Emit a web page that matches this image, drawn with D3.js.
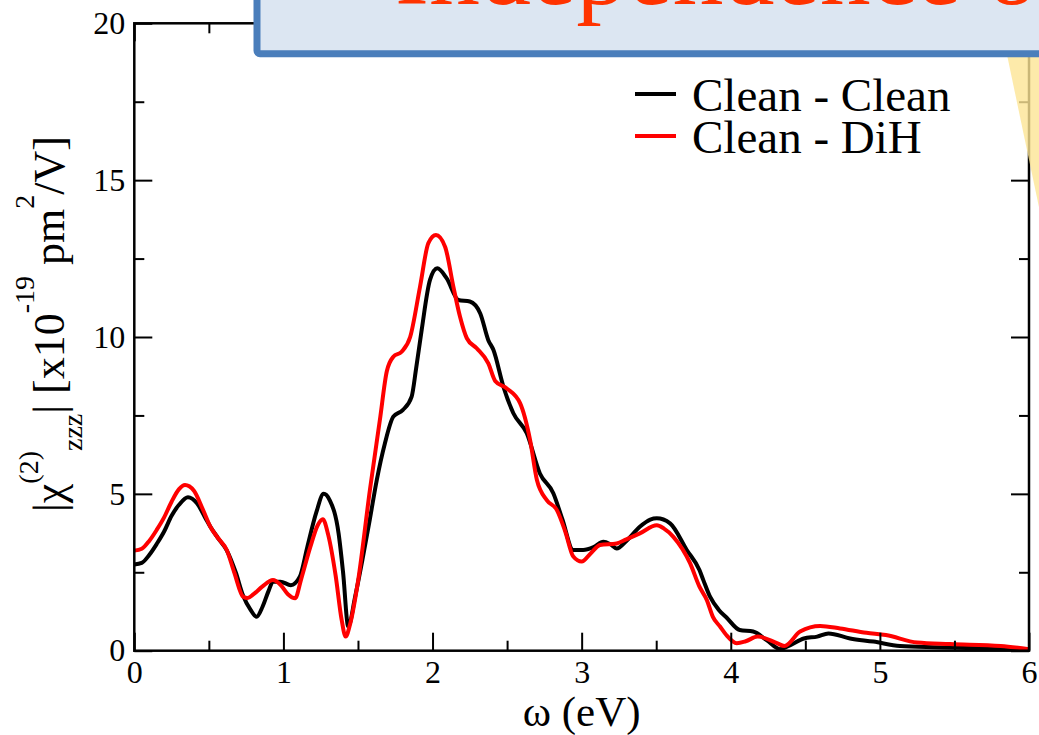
<!DOCTYPE html>
<html>
<head>
<meta charset="utf-8">
<script src="https://cdn.jsdelivr.net/npm/d3@7"></script>
<style>
	body { margin: 0; background: #fff; }
	svg { display: block; }
	text { font-family: "Times New Roman", "Liberation Serif", serif; }
</style>
</head>
<body>
<script>

// energy (eV) for the two spectra
var cleanCleanX = [0.00, 0.05, 0.10, 0.15, 0.20, 0.25, 0.30, 0.36, 0.42, 0.48, 0.51, 0.56, 0.62, 0.68, 0.73, 0.78, 0.82, 0.86, 0.90, 0.93,
	0.98, 1.05, 1.11, 1.16, 1.22, 1.27, 1.31, 1.37, 1.40, 1.435, 1.48, 1.53, 1.58, 1.626, 1.68, 1.737, 1.80, 1.86, 1.89, 1.927,
	1.983, 2.032, 2.095, 2.173, 2.25, 2.32, 2.374, 2.408, 2.475, 2.542, 2.632, 2.72, 2.81, 2.87, 2.944, 3.01, 3.08, 3.146, 3.19, 3.235,
	3.30, 3.39, 3.46, 3.504, 3.593, 3.705, 3.79, 3.816, 3.861, 3.92, 3.973, 4.06, 4.15, 4.24, 4.33, 4.40, 4.49, 4.58, 4.655, 4.80,
	4.957, 5.135, 5.36, 5.60, 5.80, 6.00];
var cleanCleanY = [2.75, 2.80, 3.05, 3.40, 3.80, 4.30, 4.65, 4.89, 4.70, 4.20, 3.95, 3.60, 3.20, 2.50, 1.75, 1.30, 1.08, 1.40, 1.90, 2.20,
	2.20, 2.09, 2.36, 3.30, 4.40, 5.00, 4.80, 3.74, 2.50, 0.77, 1.70, 2.90, 4.20, 5.44, 6.60, 7.46, 7.67, 8.10, 9.00, 10.22,
	11.82, 12.19, 11.87, 11.18, 11.13, 10.75, 9.90, 9.59, 8.42, 7.57, 6.93, 5.65, 5.02, 4.20, 3.21, 3.21, 3.30, 3.47, 3.40, 3.26,
	3.50, 3.95, 4.18, 4.22, 4.06, 3.21, 2.57, 2.25, 1.72, 1.30, 1.05, 0.66, 0.61, 0.34, 0.05, 0.18, 0.39, 0.45, 0.55, 0.39,
	0.29, 0.15, 0.11, 0.09, 0.07, 0.04];

var cleanDiHX = [0.00, 0.05, 0.10, 0.15, 0.20, 0.25, 0.30, 0.34, 0.40, 0.46, 0.51, 0.56, 0.62, 0.67, 0.73, 0.76, 0.80, 0.86, 0.93, 0.98,
	1.03, 1.078, 1.12, 1.18, 1.23, 1.264, 1.30, 1.35, 1.39, 1.417, 1.45, 1.50, 1.58, 1.647, 1.693, 1.737, 1.793, 1.85, 1.916, 1.972,
	2.023, 2.084, 2.14, 2.184, 2.23, 2.296, 2.374, 2.42, 2.498, 2.587, 2.654, 2.70, 2.766, 2.833, 2.89, 2.944, 3.00, 3.06, 3.123, 3.235,
	3.30, 3.39, 3.504, 3.55, 3.615, 3.727, 3.79, 3.839, 3.88, 3.928, 3.97, 4.04, 4.10, 4.18, 4.31, 4.36, 4.465, 4.60, 4.733, 4.91,
	5.04, 5.25, 5.47, 5.81, 6.00];
var cleanDiHY = [3.19, 3.25, 3.50, 3.85, 4.25, 4.75, 5.15, 5.28, 5.10, 4.50, 3.95, 3.60, 3.21, 2.50, 1.72, 1.68, 1.80, 2.05, 2.25, 2.10,
	1.80, 1.67, 2.30, 3.30, 4.00, 4.19, 3.70, 2.40, 1.00, 0.45, 0.90, 2.20, 5.12, 7.36, 8.90, 9.37, 9.53, 10.00, 11.60, 12.99,
	13.25, 12.88, 11.60, 10.65, 9.96, 9.64, 9.16, 8.60, 8.36, 7.89, 6.72, 5.44, 4.80, 4.49, 3.80, 3.00, 2.84, 3.10, 3.37, 3.42,
	3.55, 3.74, 4.00, 3.90, 3.63, 2.79, 2.04, 1.62, 1.08, 0.77, 0.50, 0.24, 0.30, 0.45, 0.24, 0.15, 0.61, 0.79, 0.71, 0.57,
	0.50, 0.26, 0.21, 0.15, 0.05];

var seriesNames = ['Clean - Clean', 'Clean - DiH'];
var seriesColors = ['#000000', '#ff0000'];

var xTicks = [0, 1, 2, 3, 4, 5, 6];
var xMinorTicks = [0.5, 1.5, 2.5, 3.5, 4.5, 5.5];
var yTicks = [0, 5, 10, 15, 20];
var yMinorTicks = [2.5, 7.5, 12.5, 17.5];

var titleText = 'Independence of';

(function() {

	var width = 1039;
	var height = 735;
	var plotLeft = 134.3;
	var plotRight = 1029;
	var plotTop = 23.3;
	var plotBottom = 650.7;

	var svg = d3.select('body')
		.append('svg')
			.attr('width', width)
			.attr('height', height);

	var x = d3.scaleLinear().domain([0, 6]).range([plotLeft, plotRight]);
	var y = d3.scaleLinear().domain([0, 20]).range([plotBottom, plotTop]);

	var series = [
		d3.zip(cleanCleanX, cleanCleanY),
		d3.zip(cleanDiHX, cleanDiHY)
	];

	var line = d3.line()
		.x(d => x(d[0]))
		.y(d => y(d[1]))
		.curve(d3.curveMonotoneX);

	series.forEach((serie, i) => {
		svg.append('path')
			.datum(serie)
			.attr('d', line)
			.attr('fill', 'none')
			.attr('stroke', seriesColors[i])
			.attr('stroke-width', 4)
			.attr('stroke-linejoin', 'round');
	});

	/*
	 * Axes: inward ticks on every side, labels only on bottom and left.
	 */
	function styleAxis(g) {
		g.select('.domain').remove();
		g.selectAll('line').attr('stroke', '#000').attr('stroke-width', 2);
		g.selectAll('text')
			.attr('fill', '#000')
			.style('font-size', '32px')
			.style('font-family', '"Times New Roman", "Liberation Serif", serif');
	}

	svg.append('g')
		.attr('transform', 'translate(0,' + plotBottom + ')')
		.call(d3.axisBottom(x).tickValues(xTicks).tickSizeInner(-18).tickSizeOuter(0).tickPadding(10).tickFormat(d3.format('d')))
		.call(styleAxis);
	svg.append('g')
		.attr('transform', 'translate(0,' + plotBottom + ')')
		.call(d3.axisBottom(x).tickValues(xMinorTicks).tickSizeInner(-10).tickSizeOuter(0).tickFormat(''))
		.call(styleAxis);
	svg.append('g')
		.attr('transform', 'translate(0,' + plotTop + ')')
		.call(d3.axisTop(x).tickValues(xTicks).tickSizeInner(-18).tickSizeOuter(0).tickFormat(''))
		.call(styleAxis);
	svg.append('g')
		.attr('transform', 'translate(0,' + plotTop + ')')
		.call(d3.axisTop(x).tickValues(xMinorTicks).tickSizeInner(-10).tickSizeOuter(0).tickFormat(''))
		.call(styleAxis);

	svg.append('g')
		.attr('transform', 'translate(' + plotLeft + ',0)')
		.call(d3.axisLeft(y).tickValues(yTicks).tickSizeInner(-18).tickSizeOuter(0).tickPadding(9).tickFormat(d3.format('d')))
		.call(styleAxis);
	svg.append('g')
		.attr('transform', 'translate(' + plotLeft + ',0)')
		.call(d3.axisLeft(y).tickValues(yMinorTicks).tickSizeInner(-10).tickSizeOuter(0).tickFormat(''))
		.call(styleAxis);
	svg.append('g')
		.attr('transform', 'translate(' + plotRight + ',0)')
		.call(d3.axisRight(y).tickValues(yTicks).tickSizeInner(-18).tickSizeOuter(0).tickFormat(''))
		.call(styleAxis);
	svg.append('g')
		.attr('transform', 'translate(' + plotRight + ',0)')
		.call(d3.axisRight(y).tickValues(yMinorTicks).tickSizeInner(-10).tickSizeOuter(0).tickFormat(''))
		.call(styleAxis);

	svg.append('rect')
		.attr('x', plotLeft)
		.attr('y', plotTop)
		.attr('width', plotRight - plotLeft)
		.attr('height', plotBottom - plotTop)
		.attr('fill', 'none')
		.attr('stroke', '#000')
		.attr('stroke-width', 2.5);

	// axis titles
	svg.append('text')
		.attr('x', (plotLeft + plotRight) / 2)
		.attr('y', 726)
		.attr('text-anchor', 'middle')
		.style('font-size', '43px')
		.text('\u03c9 (eV)');

	var yLabel = svg.append('text')
		.attr('transform', 'translate(64,324) rotate(-90)')
		.attr('text-anchor', 'middle')
		.style('font-size', '44px');
	yLabel.append('tspan').text('|\u03c7');
	yLabel.append('tspan').style('font-size', '28px').attr('dy', -26).text('(2)');
	yLabel.append('tspan').style('font-size', '28px').attr('dy', 44).text('zzz');
	yLabel.append('tspan').attr('dy', -18).text('|\u00a0[x10');
	yLabel.append('tspan').style('font-size', '28px').attr('dy', -30).text('-19');
	yLabel.append('tspan').attr('dy', 30).text('\u00a0pm');
	yLabel.append('tspan').style('font-size', '28px').attr('dy', -30).text('2');
	yLabel.append('tspan').attr('dy', 30).text('/V]');

	// legend
	var legend = svg.append('g');
	seriesNames.forEach((name, i) => {
		var ly = 94 + i * 42;
		legend.append('line')
			.attr('x1', 635).attr('x2', 676)
			.attr('y1', ly).attr('y2', ly)
			.attr('stroke', seriesColors[i])
			.attr('stroke-width', 4);
		legend.append('text')
			.attr('x', 692)
			.attr('y', ly + 16.5)
			.style('font-size', '47px')
			.text(name);
	});

	// slide overlay: callout wedge and title box
	svg.append('polygon')
		.attr('points', '1006,50 1090,50 1040,212')
		.attr('fill', '#fce595')
		.attr('fill-opacity', 0.8);

	svg.append('rect')
		.attr('x', 257)
		.attr('y', -30)
		.attr('width', 900)
		.attr('height', 83.7)
		.attr('rx', 3)
		.attr('fill', '#dce6f2')
		.attr('stroke', '#4a7ebb')
		.attr('stroke-width', 7);

	svg.append('text')
		.attr('x', 395)
		.attr('y', 4)
		.attr('fill', '#ff3300')
		.style('font-size', '102px')
		.text(titleText);

})();

</script>
</body>
</html>
